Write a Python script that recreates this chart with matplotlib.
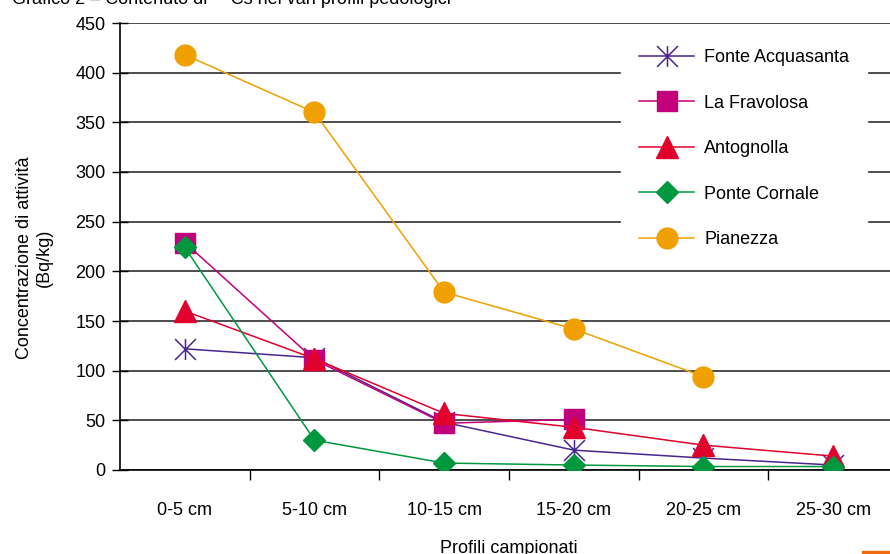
import numpy as np
import matplotlib.pyplot as plt
from matplotlib.path import Path
from matplotlib.patches import Rectangle

plt.rcParams['font.family'] = ['Liberation Sans', 'DejaVu Sans']

# categorie (profondità dei profili) e valori
profili = ["0-5 cm", "5-10 cm", "10-15 cm", "15-20 cm", "20-25 cm", "25-30 cm"]
fonte_acquasanta = [122, 113, 48, 20, 12, 5]
la_fravolosa = [229, 111, 47, 51]
antognolla = [160, 112, 57, 43, 25, 14]
ponte_cornale = [224, 30, 7, 5, 3.5, 3.5]
pianezza = [418, 360, 179, 142, 94]

# asterisco stile Excel: X con barra verticale
asterisco = Path([(0, -1), (0, 1), (-1, -1), (1, 1), (-1, 1), (1, -1)],
                 [Path.MOVETO, Path.LINETO, Path.MOVETO, Path.LINETO, Path.MOVETO, Path.LINETO])

serie = [
    ("Fonte Acquasanta", fonte_acquasanta, "#4a2590", asterisco, 15),
    ("La Fravolosa", la_fravolosa, "#c2007b", "s", 14.5),
    ("Antognolla", antognolla, "#e2002c", "^", 15.5),
    ("Ponte Cornale", ponte_cornale, "#00983f", "D", 11.5),
    ("Pianezza", pianezza, "#f0a000", "o", 15),
]

fig = plt.figure(figsize=(8.9, 5.54), dpi=100)
ax = fig.add_axes([120 / 890, 1 - 470 / 554, 778 / 890, 447 / 554])

for nome, valori, colore, marker, ms in serie:
    x = np.arange(len(valori))
    if marker is asterisco:
        ax.plot(x, valori, color=colore, lw=1.1, marker=marker, ms=ms,
                markeredgecolor=colore, markeredgewidth=1.1, label=nome, zorder=3)
    else:
        ax.plot(x, valori, color=colore, lw=1.1, marker=marker, ms=ms,
                markerfacecolor=colore, markeredgecolor=colore, label=nome, zorder=3)

ax.set_xlim(-0.5, len(profili) - 0.5)
ax.set_ylim(0, 450)
ax.set_yticks(np.arange(0, 451, 50))
ax.set_xticks(np.arange(len(profili)))
ax.set_xticklabels(profili, fontsize=13)
ax.set_xticks(np.arange(len(profili)) + 0.5, minor=True)
ax.tick_params(axis='x', which='major', length=0, pad=23)
ax.tick_params(axis='x', which='minor', length=7, width=1, direction='out')
ax.tick_params(axis='y', labelsize=13, length=11, width=1, direction='inout', pad=5)
ax.yaxis.grid(True, color='#4d4d4d', lw=1.4)
ax.set_axisbelow(True)
for s in ['top', 'right']:
    ax.spines[s].set_visible(False)
ax.spines['left'].set_linewidth(1.2)
ax.spines['bottom'].set_linewidth(1.2)

ax.set_ylabel("Concentrazione di attività\n(Bq/kg)", fontsize=13, labelpad=16)
ax.yaxis.label.set_y(0.474)
ax.set_xlabel("Profili campionati", fontsize=13, labelpad=15)

leg = ax.legend(loc='upper left', bbox_to_anchor=(621 / 890, 1 - 31 / 554),
                bbox_transform=fig.transFigure, fontsize=13, frameon=True,
                framealpha=1, edgecolor='white', facecolor='white', fancybox=False,
                handlelength=3.05, handletextpad=0.55, labelspacing=1.58,
                borderpad=1.0, borderaxespad=0)
leg.set_zorder(5)

# titolo tagliato nella parte alta dell'immagine
fig.text(12 / 890, 1.0, "Grafico 2 \u2013 Contenuto di \u00b9\u00b3\u2077Cs nei vari profili pedologici",
         fontsize=13, va='center', ha='left')

# barretta arancione in basso a destra
fig.patches.append(Rectangle((862 / 890, 0), 28 / 890, 3 / 554, transform=fig.transFigure,
                             color='#f26a10', zorder=10))

fig.savefig("out.png", dpi=100)
